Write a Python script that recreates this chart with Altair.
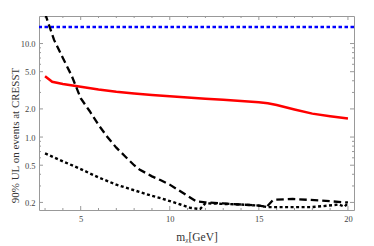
import altair as alt
import pandas as pd

# ---- data ----
mx_red = [3.0, 3.4, 4, 5, 6, 7, 8, 9, 10, 11, 12, 13, 14, 15, 15.5, 16, 17, 18, 19, 20]
ul_red = [4.48, 3.9, 3.7, 3.45, 3.22, 3.05, 2.92, 2.82, 2.73, 2.65, 2.57, 2.5, 2.43, 2.36,
          2.3, 2.2, 1.97, 1.78, 1.67, 1.58]

mx_dash = [3.0, 3.5, 4.0, 4.5, 5.0, 5.5, 6.0, 6.5, 7.0, 7.5, 8.0, 8.3, 9.0, 9.5, 10.0,
           10.5, 11.0, 11.5, 12.0, 13.0, 14.0, 15.0, 15.45, 15.8, 16.9, 18.4, 19.9, 20.0]
ul_dash = [21, 11, 7, 4.5, 2.6, 1.9, 1.35, 1.0, 0.77, 0.62, 0.5, 0.45, 0.38, 0.345, 0.31,
           0.27, 0.235, 0.205, 0.2, 0.195, 0.19, 0.185, 0.18, 0.213, 0.218, 0.21, 0.2, 0.2]

mx_dot = [3.0, 4.0, 5.0, 6.0, 7.0, 8.0, 9.0, 9.5, 10.6, 11.15, 11.7, 12.0, 13.0, 14.0,
          15.0, 15.5, 16.5, 17.9, 18.8, 19.5, 19.8, 20.0]
ul_dot = [0.67, 0.55, 0.455, 0.37, 0.31, 0.27, 0.235, 0.222, 0.19, 0.175, 0.17, 0.196,
          0.193, 0.19, 0.185, 0.178, 0.178, 0.178, 0.184, 0.19, 0.18, 0.196]

ul_blue = [15.0]

x_ticks = list(range(3, 21))
x_major = [5, 10, 15, 20]
y_major = [0.2, 0.5, 1, 2, 5, 10]
y_minor = [0.3, 0.4, 0.6, 0.7, 0.8, 0.9, 3, 4, 6, 7, 8, 9]

W, H = 315, 194
FONT = "Liberation Serif"
FRAME = "#999999"

xscale = alt.Scale(domain=[2.66, 20.34], nice=False, zero=False)
yscale = alt.Scale(type="log", domain=[0.166, 19.7], nice=False)

df_red = pd.DataFrame({"mx": mx_red, "ul": ul_red})
df_dash = pd.DataFrame({"mx": mx_dash, "ul": ul_dash})
df_dot = pd.DataFrame({"mx": mx_dot, "ul": ul_dot})
df_blue = pd.DataFrame({"ul": ul_blue})

xt_df = pd.DataFrame({"mx": x_ticks, "len": [4 if v in x_major else 2 for v in x_ticks]})
yt_df = pd.DataFrame({"ul": y_major + y_minor,
                      "len": [4] * len(y_major) + [2] * len(y_minor)})

x_axis = alt.Axis(values=x_major, ticks=False, domain=False, grid=False,
                  labelFont=FONT, labelFontSize=8.5, labelColor="#444", labelPadding=4,
                  title="mᵪ[GeV]", titleFont=FONT, titleFontSize=11.5,
                  titleFontWeight="normal", titleColor="#333",
                  titleY=27, titleBaseline="middle")
y_axis = alt.Axis(values=y_major, format=".1f", ticks=False, domain=False, grid=False,
                  labelFont=FONT, labelFontSize=8.5, labelColor="#444", labelPadding=4,
                  title="90% UL on events at CRESST", titleFont=FONT, titleFontSize=11,
                  titleFontWeight="normal", titleColor="#333",
                  titleX=-24, titleY=119, titleBaseline="middle", titleAlign="center",
                  titleAngle=270)

X = alt.X("mx:Q", scale=xscale, axis=x_axis)
Y = alt.Y("ul:Q", scale=yscale, axis=y_axis)

red = alt.Chart(df_red).mark_line(color="#ff0000", strokeWidth=2.5).encode(x=X, y=Y)
dash = alt.Chart(df_dash).mark_line(color="black", strokeWidth=2.3,
                                    strokeDash=[7.5, 4], clip=True).encode(x=X, y=Y)
dot = alt.Chart(df_dot).mark_line(color="black", strokeWidth=2.4,
                                  strokeDash=[3, 2.5], clip=True).encode(x=X, y=Y)
blue = alt.Chart(df_blue).mark_rule(color="#0000ff", strokeWidth=2.5,
                                    strokeDash=[3.5, 2.5]).encode(y=Y)

tb = alt.Chart(xt_df).mark_rule(color=FRAME, strokeWidth=1).encode(
    x=X, y=alt.value(H), y2=alt.YValue(alt.ExprRef(f"{H} - datum.len")),
)
tt = alt.Chart(xt_df).mark_rule(color=FRAME, strokeWidth=1).encode(
    x=X, y=alt.value(0), y2=alt.YValue(alt.ExprRef("datum.len")),
)
tl = alt.Chart(yt_df).mark_rule(color=FRAME, strokeWidth=1).encode(
    y=Y, x=alt.value(0), x2=alt.XValue(alt.ExprRef("datum.len")),
)
tr = alt.Chart(yt_df).mark_rule(color=FRAME, strokeWidth=1).encode(
    y=Y, x=alt.value(W), x2=alt.XValue(alt.ExprRef(f"{W} - datum.len")),
)

chart = alt.layer(red, tb, tt, tl, tr, blue, dash, dot).properties(
    width=W, height=H,
    autosize=alt.AutoSizeParams(type="none"),
    padding={"left": 31, "top": 8, "right": 12, "bottom": 36},
    background="white",
).configure_view(stroke=FRAME, strokeWidth=1)

chart.save("out.html", embed_options={"renderer": "svg", "actions": False})
